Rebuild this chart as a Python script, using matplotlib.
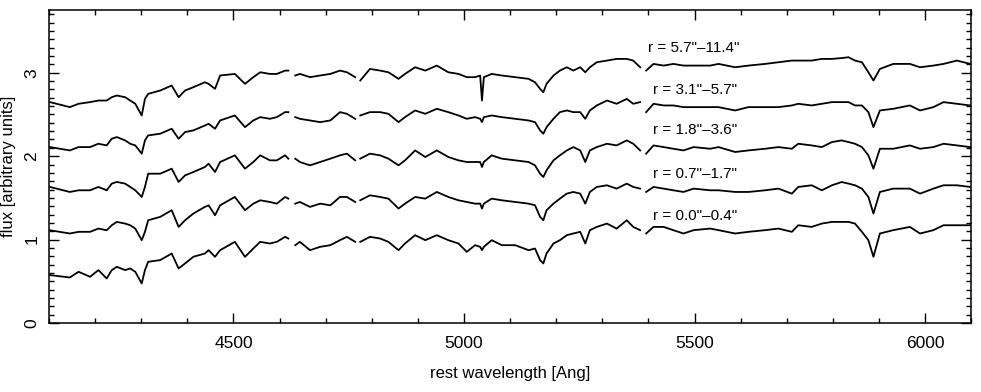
import numpy as np
import matplotlib
matplotlib.use("Agg")
import matplotlib.pyplot as plt
from matplotlib.ticker import MultipleLocator

plt.rcParams['font.family'] = ['Liberation Sans', 'DejaVu Sans']

nan = np.nan

# rest wavelength grid [Ang]; nan marks the gaps in the spectra
wave = [
    # 4100 - 4620
    4102, 4145, 4164, 4189, 4207, 4225, 4236, 4247, 4265, 4276, 4287, 4301,
    4308, 4315, 4341, 4366, 4381, 4395, 4413, 4438, 4446, 4460,
    4471, 4503, 4525, 4543, 4558, 4579, 4594, 4612, 4619,
    4626,
    # 4630 - 4765
    4634, 4644, 4666, 4688, 4710, 4731, 4746, 4764,
    4770,
    # 4775 - 5385
    4775, 4796, 4818,
    4836, 4858, 4872, 4894, 4916, 4941, 4966, 4988, 5006, 5024, 5035, 5039,
    5043, 5060, 5082, 5111, 5140, 5154, 5165, 5172,
    5179, 5194, 5208, 5223, 5237, 5252, 5263, 5273, 5288, 5310, 5331, 5353,
    5367, 5382,
    5388,
    # 5395 - 6100
    5395, 5411, 5433, 5454, 5476, 5498, 5534,
    5552, 5588, 5617, 5653, 5682, 5711, 5725, 5754, 5776, 5798, 5819, 5834,
    5848, 5863, 5877,
    5888, 5902, 5931, 5967, 5989, 6018, 6040, 6069, 6098,
]

flux_r00_04 = [
    0.574, 0.546, 0.614, 0.554, 0.634, 0.534, 0.634, 0.674, 0.634, 0.654, 0.614, 0.474,
    0.634, 0.734, 0.754, 0.833, 0.654, 0.714, 0.794, 0.833, 0.873, 0.794,
    0.873, 0.973, 0.793, 0.893, 0.973, 0.953, 0.973, 1.033, 1.013,
    nan,
    0.933, 0.973, 0.873, 0.913, 0.933, 0.993, 1.033, 0.973,
    nan,
    0.973, 1.033, 1.013,
    0.973, 0.873, 0.953, 1.053, 0.993, 1.053, 0.993, 0.953, 0.853, 0.933, 0.913, 0.873,
    0.913, 0.993, 0.933, 0.933, 0.873, 0.893, 0.754, 0.714,
    0.833, 0.953, 0.993, 1.053, 1.073, 1.093, 0.953, 1.113, 1.152, 1.192, 1.132, 1.232,
    1.152, 1.113,
    nan,
    1.073, 1.152, 1.152, 1.113, 1.073, 1.113, 1.132,
    1.113, 1.073, 1.093, 1.113, 1.132, 1.093, 1.172, 1.152, 1.192, 1.212, 1.212, 1.212,
    1.192, 1.093, 0.993,
    0.794, 1.073, 1.113, 1.152, 1.073, 1.113, 1.172, 1.172, 1.172,
]

flux_r07_17 = [
    1.112, 1.073, 1.093, 1.093, 1.132, 1.112, 1.172, 1.212, 1.192, 1.172, 1.132, 0.993,
    1.093, 1.232, 1.272, 1.352, 1.152, 1.232, 1.312, 1.392, 1.411, 1.292,
    1.411, 1.511, 1.352, 1.431, 1.471, 1.451, 1.431, 1.511, 1.491,
    nan,
    1.431, 1.451, 1.392, 1.431, 1.411, 1.511, 1.511, 1.451,
    nan,
    1.471, 1.531, 1.511,
    1.491, 1.372, 1.431, 1.511, 1.491, 1.571, 1.511, 1.471, 1.451, 1.431, 1.431, 1.372,
    1.431, 1.491, 1.471, 1.451, 1.431, 1.411, 1.272, 1.232,
    1.352, 1.431, 1.491, 1.551, 1.571, 1.551, 1.431, 1.571, 1.631, 1.651, 1.611, 1.671,
    1.631, 1.611,
    nan,
    1.571, 1.631, 1.611, 1.591, 1.571, 1.611, 1.591,
    1.591, 1.571, 1.571, 1.591, 1.611, 1.551, 1.631, 1.651, 1.591, 1.651, 1.690, 1.671,
    1.651, 1.611, 1.511,
    1.312, 1.571, 1.611, 1.611, 1.551, 1.611, 1.651, 1.651, 1.631,
]

flux_r18_36 = [
    1.631, 1.571, 1.591, 1.591, 1.631, 1.591, 1.671, 1.691, 1.671, 1.631, 1.591, 1.511,
    1.631, 1.790, 1.790, 1.850, 1.691, 1.770, 1.810, 1.870, 1.910, 1.810,
    1.930, 2.010, 1.850, 1.930, 2.010, 1.950, 1.950, 2.010, 1.970,
    nan,
    1.970, 1.930, 1.890, 1.930, 1.970, 2.010, 2.030, 1.950,
    nan,
    1.970, 2.030, 2.010,
    1.970, 1.890, 1.950, 2.069, 1.990, 2.069, 1.990, 1.950, 1.930, 1.930, 1.930, 1.870,
    1.930, 2.010, 1.970, 1.950, 1.930, 1.890, 1.790, 1.750,
    1.830, 1.950, 2.010, 2.069, 2.109, 2.069, 1.930, 2.069, 2.109, 2.149, 2.129, 2.189,
    2.149, 2.069,
    nan,
    2.030, 2.129, 2.109, 2.089, 2.069, 2.109, 2.089,
    2.109, 2.050, 2.069, 2.089, 2.109, 2.089, 2.149, 2.129, 2.109, 2.169, 2.189, 2.169,
    2.149, 2.109, 2.010,
    1.850, 2.089, 2.089, 2.129, 2.089, 2.109, 2.149, 2.129, 2.109,
]

flux_r31_57 = [
    2.109, 2.069, 2.109, 2.109, 2.149, 2.129, 2.209, 2.229, 2.189, 2.149, 2.129, 2.030,
    2.189, 2.249, 2.269, 2.329, 2.209, 2.289, 2.309, 2.368, 2.388, 2.329,
    2.428, 2.488, 2.348, 2.428, 2.468, 2.448, 2.468, 2.528, 2.528,
    nan,
    2.468, 2.448, 2.428, 2.408, 2.428, 2.528, 2.508, 2.448,
    nan,
    2.488, 2.528, 2.528,
    2.508, 2.408, 2.468, 2.548, 2.508, 2.568, 2.528, 2.488, 2.448, 2.468, 2.448, 2.408,
    2.468, 2.488, 2.468, 2.448, 2.428, 2.408, 2.309, 2.269,
    2.348, 2.448, 2.528, 2.548, 2.528, 2.528, 2.448, 2.548, 2.608, 2.667, 2.628, 2.687,
    2.628, 2.648,
    nan,
    2.528, 2.628, 2.608, 2.608, 2.588, 2.588, 2.588,
    2.588, 2.548, 2.588, 2.588, 2.588, 2.608, 2.628, 2.608, 2.628, 2.648, 2.648, 2.648,
    2.608, 2.608, 2.528,
    2.348, 2.548, 2.568, 2.608, 2.548, 2.588, 2.648, 2.628, 2.608,
]

flux_r57_114 = [
    2.648, 2.588, 2.628, 2.648, 2.667, 2.667, 2.707, 2.727, 2.707, 2.667, 2.628, 2.488,
    2.687, 2.747, 2.787, 2.847, 2.707, 2.787, 2.827, 2.886, 2.867, 2.807,
    2.967, 2.986, 2.867, 2.947, 3.006, 2.986, 2.986, 3.026, 3.026,
    nan,
    2.967, 2.986, 2.947, 2.967, 2.986, 3.026, 3.006, 2.947,
    nan,
    2.907, 3.046, 3.026,
    3.006, 2.927, 2.986, 3.066, 3.026, 3.086, 3.006, 2.986, 2.947, 2.947, 2.967, 2.667,
    2.947, 2.986, 2.967, 2.947, 2.927, 2.886, 2.807, 2.767,
    2.867, 2.967, 3.026, 3.066, 3.026, 3.066, 3.006, 3.066, 3.126, 3.146, 3.166, 3.166,
    3.146, 3.066,
    nan,
    3.026, 3.106, 3.086, 3.106, 3.086, 3.086, 3.086,
    3.106, 3.066, 3.086, 3.106, 3.126, 3.146, 3.146, 3.146, 3.166, 3.166, 3.176, 3.186,
    3.146, 3.126, 3.006,
    2.907, 3.046, 3.106, 3.106, 3.066, 3.086, 3.106, 3.146, 3.106,
]

labels = ['r = 0.0"\u20130.4"', 'r = 0.7"\u20131.7"', 'r = 1.8"\u20133.6"',
          'r = 3.1"\u20135.7"', 'r = 5.7"\u201311.4"']
spectra = [flux_r00_04, flux_r07_17, flux_r18_36, flux_r31_57, flux_r57_114]
label_x = [5410, 5410, 5410, 5410, 5399]
label_y = [1.28, 1.79, 2.31, 2.79, 3.30]

fig = plt.figure(figsize=(9.81, 3.92), dpi=100)
ax = fig.add_axes([0.050, 0.176, 0.940, 0.798])

for flux in spectra:
    ax.plot(wave, flux, color='black', lw=1.3)

for lab, lx, ly in zip(labels, label_x, label_y):
    ax.text(lx, ly, lab, fontsize=11, ha='left', va='center')

ax.set_xlim(4100, 6100)
ax.set_ylim(0, 3.75)
ax.xaxis.set_major_locator(MultipleLocator(500))
ax.xaxis.set_minor_locator(MultipleLocator(100))
ax.yaxis.set_major_locator(MultipleLocator(1))
ax.yaxis.set_minor_locator(MultipleLocator(0.1))
ax.tick_params(which='both', direction='in', top=True, right=True,
               labelsize=12.5, width=1.0)
ax.tick_params(which='major', length=7)
ax.tick_params(axis='x', which='major', pad=9)
ax.tick_params(axis='y', which='major', pad=7)
ax.tick_params(which='minor', length=3.5)
for lab in ax.get_yticklabels():
    lab.set_rotation(90)
    lab.set_va('center')
for sp in ax.spines.values():
    sp.set_linewidth(1.1)

ax.set_xlabel('rest wavelength [Ang]', fontsize=12, labelpad=11)
ax.set_ylabel('flux [arbitrary units]', fontsize=12, labelpad=6)

fig.savefig('out.png', dpi=100)
